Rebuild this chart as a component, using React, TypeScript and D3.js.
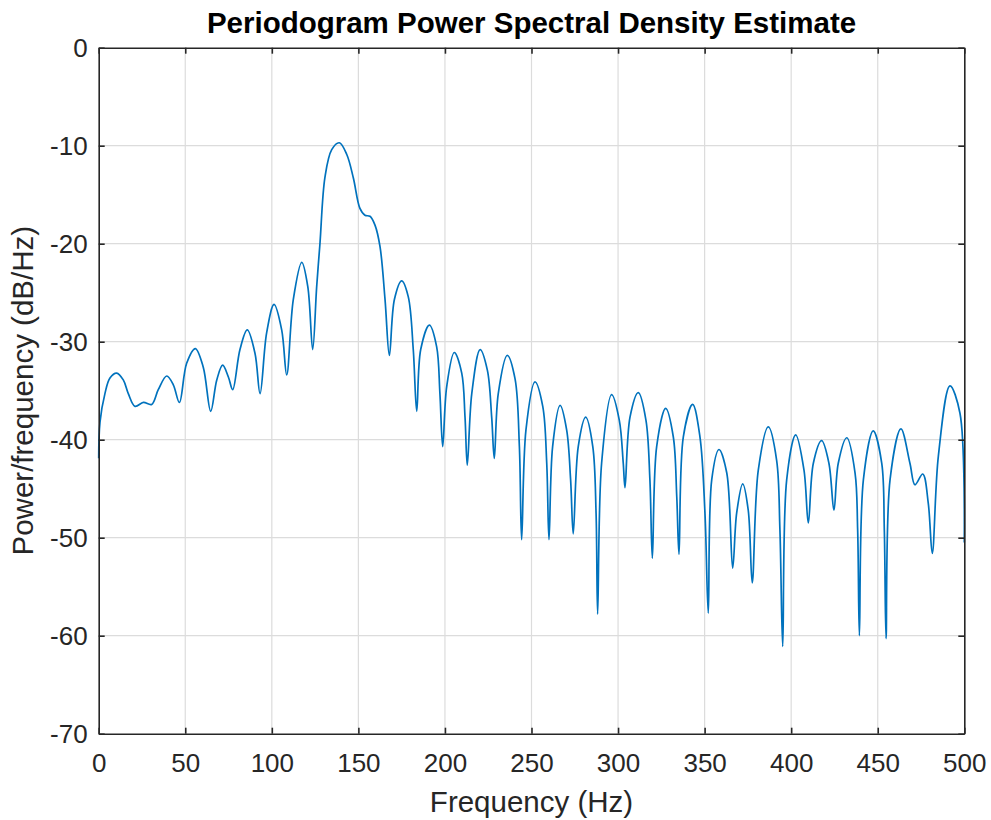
import { useEffect, useRef } from "react";
import * as d3 from "d3";

// frequency (Hz) and PSD (dB/Hz)
const freqHz = [
  0, 0.75, 3.6, 6.5, 10.4, 14.2, 17.1, 21.0, 25.8, 30.6, 34.4, 39.3, 43.1, 46.6,
  50.8, 55.8, 60.4, 64.7, 68.2, 71.6, 74.9, 77.4, 81.6, 85.8, 90.3, 93.2, 97.0,
  101.3, 105.7, 108.6, 112.4, 117.3, 120.8, 123.6, 125.9, 127.8, 130.7, 134.6,
  139.0, 143.3, 147.1, 150.9, 153.8, 156.7, 159.6, 162.5, 165.4, 167.9, 170.8,
  175.0, 178.8, 181.7, 183.7, 186.0, 191.0, 195.2, 197.1, 198.7, 201.0, 205.4,
  209.7, 211.6, 212.9, 215.5, 220.3, 224.5, 227.0, 228.5, 230.8, 236.0, 240.5,
  243.0, 244.3, 246.8, 252.0, 256.5, 258.8, 260.1, 262.2, 266.5, 270.3, 272.6,
  274.1, 277.0, 281.3, 285.4, 287.3, 288.2, 290.5, 296.3, 300.7, 303.0, 304.0,
  306.9, 311.7, 316.1, 318.4, 319.8, 322.3, 327.5, 331.9, 333.9, 335.2, 337.7,
  343.1, 347.3, 350.2, 352.1, 354.1, 358.3, 362.8, 366.2, 368.5, 372.0, 375.2,
  377.5, 381.0, 386.8, 391.6, 393.5, 395.1, 397.4, 402.6, 407.4, 409.9, 412.8,
  417.6, 421.8, 424.7, 427.2, 432.1, 436.9, 438.4, 439.4, 441.7, 447.4, 452.3,
  453.8, 454.8, 457.1, 463.4, 468.6, 471.5, 476.0, 479.2, 481.5, 485.0, 491.7,
  497.5, 500.0,
];

const psdDb = [
  -41.9, -38.2, -35.3, -33.7, -33.2, -33.9, -35.3, -36.6, -36.2, -36.4, -34.9,
  -33.5, -34.4, -36.2, -32.2, -30.7, -32.6, -37.1, -33.9, -32.4, -33.6, -34.9,
  -30.8, -28.8, -31.2, -35.3, -29.1, -26.2, -28.8, -33.4, -25.7, -21.9, -24.4,
  -30.8, -24.4, -20.0, -13.2, -10.4, -9.7, -10.9, -13.3, -16.4, -17.1, -17.2,
  -18.1, -20.3, -25.7, -31.4, -25.7, -23.8, -25.4, -30.8, -37.1, -30.8, -28.3,
  -30.5, -35.3, -40.7, -34.6, -31.1, -33.2, -37.7, -42.6, -35.3, -30.8, -32.9,
  -37.7, -41.9, -35.3, -31.4, -33.8, -40.7, -50.2, -39.0, -34.1, -36.6, -42.4,
  -50.2, -40.7, -36.5, -39.0, -44.1, -49.6, -40.7, -37.7, -40.7, -47.5, -57.8,
  -42.4, -35.4, -38.0, -42.4, -44.9, -37.7, -35.2, -38.0, -44.1, -52.1, -40.7,
  -36.8, -39.7, -45.8, -51.7, -39.7, -36.4, -39.7, -47.5, -57.7, -44.1, -41.0,
  -43.4, -53.1, -47.5, -44.5, -47.2, -54.6, -43.1, -38.7, -42.1, -49.2, -61.1,
  -44.1, -39.5, -43.1, -48.5, -42.4, -40.1, -42.4, -47.2, -42.4, -39.8, -43.4,
  -49.2, -60.0, -44.1, -39.1, -42.4, -49.2, -60.3, -44.1, -38.9, -42.4, -44.6,
  -43.5, -46.5, -51.6, -41.7, -34.5, -37.3, -50.5,
];

const xTicks = [0, 50, 100, 150, 200, 250, 300, 350, 400, 450, 500];
const yTicks = [0, -10, -20, -30, -40, -50, -60, -70];

const WIDTH = 991;
const HEIGHT = 820;

export default function App() {
  const svgRef = useRef<SVGSVGElement | null>(null);

  useEffect(() => {
    if (!svgRef.current) return;

    const margin = { top: 47.7, right: 26.7, bottom: 86.3, left: 98.7 };
    const innerW = WIDTH - margin.left - margin.right;
    const innerH = HEIGHT - margin.top - margin.bottom;
    const font = "'Liberation Sans', Arial, Helvetica, sans-serif";
    const axisColor = "#262626";

    const svg = d3.select(svgRef.current);
    svg.selectAll("*").remove();

    const x = d3.scaleLinear().domain([0, 500]).range([0, innerW]);
    const y = d3.scaleLinear().domain([-70, 0]).range([innerH, 0]);

    const g = svg
      .append("g")
      .attr("transform", `translate(${margin.left},${margin.top})`);

    // grid
    g.append("g")
      .selectAll("line")
      .data(xTicks.slice(1, -1))
      .join("line")
      .attr("x1", (d) => x(d))
      .attr("x2", (d) => x(d))
      .attr("y1", 0)
      .attr("y2", innerH)
      .attr("stroke", "#dcdcdc")
      .attr("stroke-width", 1.2);

    g.append("g")
      .selectAll("line")
      .data(yTicks.slice(1, -1))
      .join("line")
      .attr("x1", 0)
      .attr("x2", innerW)
      .attr("y1", (d) => y(d))
      .attr("y2", (d) => y(d))
      .attr("stroke", "#dcdcdc")
      .attr("stroke-width", 1.2);

    // psd line
    const pts = freqHz.map((f, i) => [f, psdDb[i]] as [number, number]);
    const line = d3
      .line<[number, number]>()
      .x((d) => x(d[0]))
      .y((d) => y(d[1]))
      .curve(d3.curveCatmullRom.alpha(0.5));

    g.append("path")
      .datum(pts)
      .attr("d", line)
      .attr("fill", "none")
      .attr("stroke", "#0072BD")
      .attr("stroke-width", 1.7)
      .attr("stroke-linejoin", "round");

    // axes (MATLAB style: inward ticks, box on)
    const styleAxis = (sel: d3.Selection<SVGGElement, unknown, null, undefined>) => {
      sel.select(".domain").attr("stroke", axisColor).attr("stroke-width", 1.6);
      sel.selectAll(".tick line").attr("stroke", axisColor).attr("stroke-width", 1.6);
      sel
        .selectAll(".tick text")
        .attr("fill", axisColor)
        .attr("font-family", font)
        .attr("font-size", 26);
    };

    const fmt = (d: d3.NumberValue) => String(d);

    const bottom = g
      .append("g")
      .attr("transform", `translate(0,${innerH})`)
      .call(
        d3.axisBottom(x).tickValues(xTicks).tickFormat(fmt).tickSizeInner(-6).tickSizeOuter(0).tickPadding(20)
      );
    styleAxis(bottom);

    const left = g
      .append("g")
      .call(
        d3.axisLeft(y).tickValues(yTicks).tickFormat(fmt).tickSizeInner(-6).tickSizeOuter(0).tickPadding(11)
      );
    styleAxis(left);

    const top = g
      .append("g")
      .call(d3.axisTop(x).tickValues(xTicks).tickSizeInner(-6).tickSizeOuter(0).tickFormat(() => ""));
    styleAxis(top);

    const right = g
      .append("g")
      .attr("transform", `translate(${innerW},0)`)
      .call(d3.axisRight(y).tickValues(yTicks).tickSizeInner(-6).tickSizeOuter(0).tickFormat(() => ""));
    styleAxis(right);

    // title
    svg
      .append("text")
      .attr("x", margin.left + innerW / 2)
      .attr("y", 33)
      .attr("text-anchor", "middle")
      .attr("font-family", font)
      .attr("font-size", 29.5)
      .attr("font-weight", "bold")
      .attr("fill", "#000")
      .text("Periodogram Power Spectral Density Estimate");

    // axis labels
    svg
      .append("text")
      .attr("x", margin.left + innerW / 2)
      .attr("y", 812)
      .attr("text-anchor", "middle")
      .attr("font-family", font)
      .attr("font-size", 29.5)
      .attr("fill", axisColor)
      .text("Frequency (Hz)");

    svg
      .append("text")
      .attr("transform", `translate(33,${margin.top + innerH / 2}) rotate(-90)`)
      .attr("text-anchor", "middle")
      .attr("font-family", font)
      .attr("font-size", 29.5)
      .attr("fill", axisColor)
      .text("Power/frequency (dB/Hz)");
  }, []);

  return (
    <svg
      ref={svgRef}
      width={WIDTH}
      height={HEIGHT}
      style={{ position: "absolute", left: 0, top: 0, background: "#fff" }}
    />
  );
}
